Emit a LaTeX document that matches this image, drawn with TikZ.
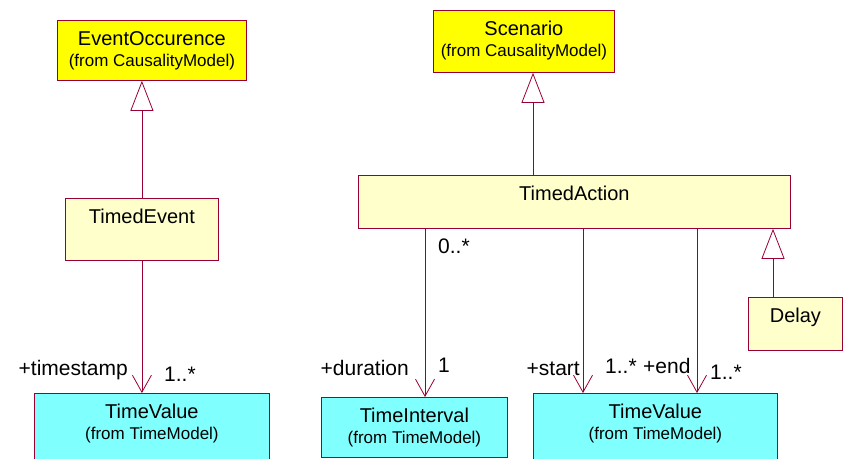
\documentclass[tikz,border=0pt]{standalone}
\usepackage{fontspec}
\setmainfont{Liberation Sans}
\usepackage{tikz}
\usetikzlibrary{arrows.meta,positioning}
\definecolor{umlline}{RGB}{153,0,51}
\definecolor{extyellow}{RGB}{255,255,0}
\definecolor{classyellow}{RGB}{255,255,204}
\definecolor{extcyan}{RGB}{128,255,255}
\newcommand{\fromtxt}[1]{{\fontsize{17}{21}\selectfont (from #1)}}

\begin{document}
\begin{tikzpicture}[
    x=1pt, y=-1pt,
    cls/.style={rectangle, draw=umlline, line width=0.8pt, anchor=north west, inner sep=0pt, align=center, text height=25pt, font=\fontsize{20}{21}\selectfont},
    twoline/.style={text height=46pt},
    ext/.style={cls, twoline, fill=extyellow},
    own/.style={cls, fill=classyellow},
    tm/.style={cls, twoline, fill=extcyan},
    lbl/.style={inner sep=0pt, font=\fontsize{21}{24}\selectfont},
    gen/.style={draw=umlline, line width=0.8pt, -{Triangle[open, length=30pt, width=23pt]}},
    assoc/.style={draw=umlline, line width=0.8pt, -{Straight Barb[length=17pt, width=19pt]}}
]
    \useasboundingbox (0,0) rectangle (843,458);

    \node[ext, minimum width=189pt, text depth=14pt] (evocc) at (57,20) {EventOccurence\\\fromtxt{CausalityModel}};
    \node[own, minimum width=153pt, text depth=37pt] (tevent) at (65,198) {TimedEvent};
    \node[tm, minimum width=235pt, text depth=34pt] (tvall) at (34,393) {TimeValue\\\fromtxt{TimeModel}};

    \node[ext, minimum width=181pt, text depth=16pt] (scen) at (433,10) {Scenario\\\fromtxt{CausalityModel}};
    \node[own, minimum width=432pt, text depth=28pt] (tact) at (358,175) {TimedAction};
    \node[own, minimum width=94pt, text depth=28pt] (delay) at (748,297) {Delay};
    \node[tm, minimum width=186pt, text depth=14pt] (tint) at (321,397) {TimeInterval\\\fromtxt{TimeModel}};
    \node[tm, minimum width=244pt, text depth=34pt] (tvalr) at (533,393) {TimeValue\\\fromtxt{TimeModel}};

    \draw[gen] (tevent.north) -- (tevent.north |- evocc.south);
    \draw[assoc] (tevent.south) -- (tevent.south |- tvall.north);
    \draw[gen] (tact.north -| 533,0) -- (scen.south -| 533,0);
    \draw[gen] (delay.north -| 773,0) -- (tact.south -| 773,0);
    \draw[assoc] (tact.south -| 425,0) -- (tint.north -| 425,0);
    \draw[assoc] (tact.south -| 583,0) -- (tvalr.north -| 583,0);
    \draw[assoc] (tact.south -| 697,0) -- (tvalr.north -| 697,0);

    \node[lbl, anchor=base east] (tstamp) at (128,375) {+timestamp};
    \node[lbl, anchor=base west] (multts) at (164,381) {1..*};
    \node[lbl, anchor=base west] (multact) at (438,253) {0..*};
    \node[lbl, anchor=base east] (dur) at (409,375) {+duration};
    \node[lbl, anchor=base west] (multdur) at (438,372) {1};
    \node[lbl, anchor=base east] (startlbl) at (580,375) {+start};
    \node[lbl, anchor=base west] (multstart) at (605,373) {1..*};
    \node[lbl, anchor=base west] (endlbl) at (643,373) {+end};
    \node[lbl, anchor=base west] (multend) at (710,379) {1..*};
\end{tikzpicture}
\end{document}
